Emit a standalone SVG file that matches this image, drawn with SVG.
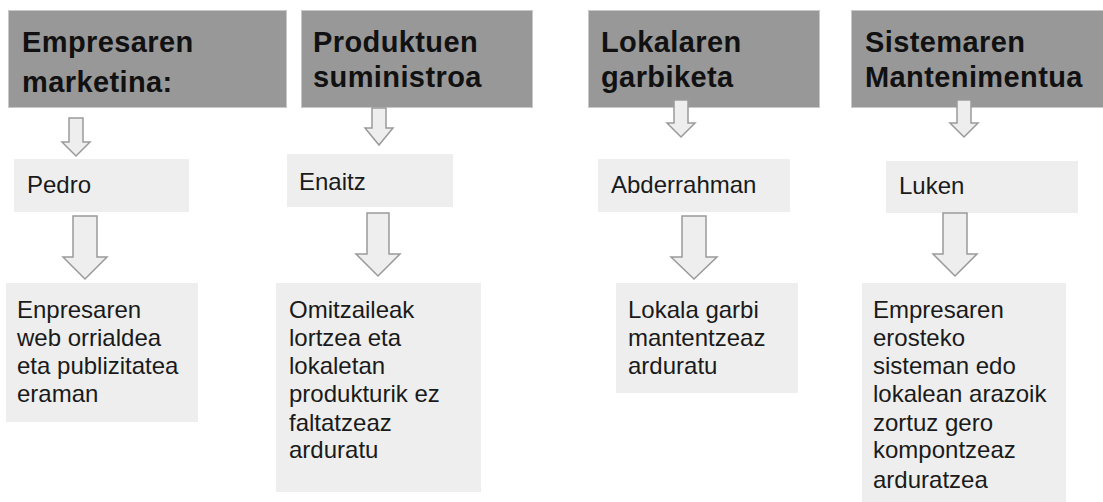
<svg xmlns="http://www.w3.org/2000/svg" width="1103" height="502" viewBox="0 0 1103 502">
<style>
.hdr{fill:#989898;stroke:#c8c8c8;stroke-width:1}
.box{fill:#eeeeee}
.ht{font-family:"Liberation Sans",Arial,sans-serif;font-weight:bold;font-size:29px;letter-spacing:0.4px;fill:#111}
.bt{font-family:"Liberation Sans",Arial,sans-serif;font-size:24px;fill:#1a1a1a}
.arr{fill:#eeeeee;stroke:#9a9a9a;stroke-width:1.5;stroke-linejoin:miter}
</style>
<rect width="1103" height="502" fill="#ffffff"/>
<g id="h1"><rect class="hdr" x="8.5" y="10.5" width="278" height="97"/>
<text class="ht" x="22" y="52">Empresaren</text><text class="ht" x="22" y="92">marketina:</text></g>
<g id="h2"><rect class="hdr" x="301.5" y="10.5" width="231" height="97"/>
<text class="ht" x="313" y="52">Produktuen</text><text class="ht" x="313" y="87">suministroa</text></g>
<g id="h3"><rect class="hdr" x="588.5" y="10.5" width="231" height="97"/>
<text class="ht" x="601" y="52">Lokalaren</text><text class="ht" x="601" y="87">garbiketa</text></g>
<g id="h4"><rect class="hdr" x="851.5" y="10.5" width="252" height="97"/>
<text class="ht" x="865" y="52">Sistemaren</text><text class="ht" x="865" y="87">Mantenimentua</text></g>
<g id="p1"><rect class="box" x="14" y="159" width="175" height="53"/><text class="bt" x="27" y="193">Pedro</text></g>
<g id="p2"><rect class="box" x="287" y="154" width="166" height="53"/><text class="bt" x="299" y="190">Enaitz</text></g>
<g id="p3"><rect class="box" x="598" y="159" width="192" height="53"/><text class="bt" x="611" y="193">Abderrahman</text></g>
<g id="p4"><rect class="box" x="886" y="161" width="192" height="52"/><text class="bt" x="899" y="194">Luken</text></g>
<g id="d1"><rect class="box" x="6" y="283" width="192" height="139"/>
<text class="bt" x="17" y="318">Enpresaren</text><text class="bt" x="17" y="346">web orrialdea</text><text class="bt" x="17" y="374">eta publizitatea</text><text class="bt" x="17" y="402">eraman</text></g>
<g id="d2"><rect class="box" x="276" y="283" width="205" height="209"/>
<text class="bt" x="289" y="318">Omitzaileak</text><text class="bt" x="289" y="346">lortzea eta</text><text class="bt" x="289" y="374">lokaletan</text><text class="bt" x="289" y="402">produkturik ez</text><text class="bt" x="289" y="431">faltatzeaz</text><text class="bt" x="289" y="458">arduratu</text></g>
<g id="d3"><rect class="box" x="616" y="283" width="182" height="110"/>
<text class="bt" x="628" y="318">Lokala garbi</text><text class="bt" x="628" y="346">mantentzeaz</text><text class="bt" x="628" y="374">arduratu</text></g>
<g id="d4"><rect class="box" x="862" y="283" width="204" height="225"/>
<text class="bt" x="873" y="318">Empresaren</text><text class="bt" x="873" y="346">erosteko</text><text class="bt" x="873" y="374">sisteman edo</text><text class="bt" x="873" y="402">lokalean arazoik</text><text class="bt" x="873" y="431">zortuz gero</text><text class="bt" x="873" y="458">kompontzeaz</text><text class="bt" x="873" y="488">arduratzea</text></g>
<g id="connectors">
<polygon class="arr" points="69,118 83,118 83,142 90,142 76,156 62,142 69,142"/>
<polygon class="arr" points="372,108 386,108 386,128 393,128 379,145 365,128 372,128"/>
<polygon class="arr" points="674,100 688,100 688,123 695,123 681,137 667,123 674,123"/>
<polygon class="arr" points="957,100 971,100 971,123 978,123 964,137 950,123 957,123"/>
<polygon class="arr" points="73,216 97,216 97,257 107,257 85,279 63,257 73,257"/>
<polygon class="arr" points="367,213 389,213 389,254 400,254 378,276 356,254 367,254"/>
<polygon class="arr" points="682,216 706,216 706,257 717,257 694,279 671,257 682,257"/>
<polygon class="arr" points="943,213 967,213 967,254 977,254 955,276 933,254 943,254"/>
</g>
</svg>
